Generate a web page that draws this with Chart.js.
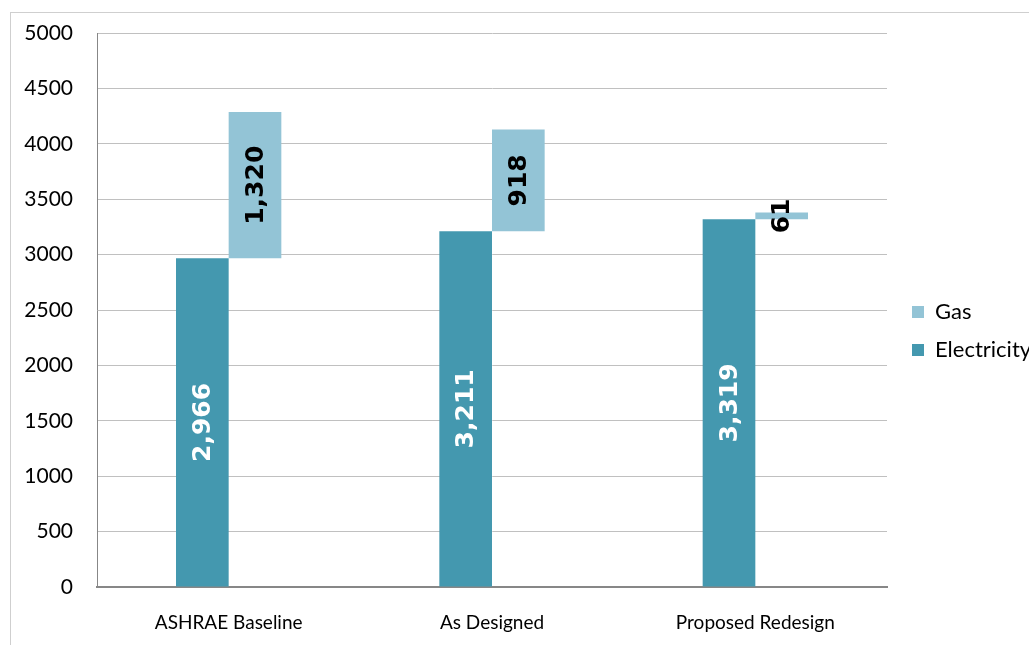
<!DOCTYPE html>
<html>
<head>
<meta charset="utf-8">
<script src="https://cdn.jsdelivr.net/npm/chart.js@4/dist/chart.umd.min.js"></script>
<style>
  html, body { margin: 0; padding: 0; background: #fff; width: 1029px; height: 645px; overflow: hidden; }
  #frame { position: absolute; left: 10px; top: 12px; width: 1200px; height: 800px; border: 1px solid #cfcfcf; box-sizing: border-box; }
  #wrap { position: absolute; left: 0; top: 0; width: 1140px; height: 645px; }
</style>
</head>
<body>
<div id="frame"></div>
<div id="wrap"><canvas id="chart" width="1140" height="645"></canvas></div>
<script>
// Annual energy use by scenario
const categories = ['ASHRAE Baseline', 'As Designed', 'Proposed Redesign'];
const electricity = [2966, 3211, 3319];
const gas = [1320, 918, 61];
const yTickMin = 0;
const yTickMax = 5000;
const yTickStep = 500;

// Gas is drawn as a floating bar sitting on top of the electricity level
const gasRanges = gas.map((g, i) => [electricity[i], electricity[i] + g]);

const fmt = v => v.toLocaleString('en-US');
const CANVAS_W = 1140;
const PLOT_LEFT = 97, PLOT_RIGHT = 887, PLOT_TOP = 33, PLOT_BOTTOM = 587;

const uiFont = 'Lato, "Open Sans", sans-serif';

// Rotated value labels in the middle of each bar
const valueLabels = {
  id: 'valueLabels',
  afterDatasetsDraw(chart) {
    const ctx = chart.ctx;
    chart.data.datasets.forEach((ds, i) => {
      const meta = chart.getDatasetMeta(i);
      if (meta.hidden) return;
      meta.data.forEach((bar, j) => {
        const cx = bar.x;
        const cy = (bar.y + bar.base) / 2;
        ctx.save();
        ctx.translate(cx, cy);
        ctx.rotate(-Math.PI / 2);
        ctx.font = 'bold 25px "DejaVu Sans", sans-serif';
        ctx.fillStyle = ds.valueColor;
        ctx.textAlign = 'center';
        ctx.textBaseline = 'middle';
        ctx.fillText(ds.valueText[j], 0, 1);
        ctx.restore();
      });
    });
  }
};

// Leave a small gap between the plot and the legend column
const legendGap = {
  id: 'legendGap',
  afterLayout(chart) {
    if (chart.legend) {
      chart.legend.left += 9;
      chart.legend.right += 9;
      chart.legend.top -= 8;
      chart.legend.bottom -= 8;
    }
  }
};

const chart = new Chart(document.getElementById('chart'), {
  type: 'bar',
  data: {
    labels: categories,
    datasets: [
      {
        label: 'Electricity',
        data: electricity,
        backgroundColor: '#4498AF',
        valueText: electricity.map(fmt),
        valueColor: '#ffffff',
        categoryPercentage: 0.4,
        barPercentage: 1.0
      },
      {
        label: 'Gas',
        data: gasRanges,
        backgroundColor: '#93C4D6',
        valueText: gas.map(fmt),
        valueColor: '#000000',
        categoryPercentage: 0.4,
        barPercentage: 1.0
      }
    ]
  },
  options: {
    responsive: false,
    animation: false,
    devicePixelRatio: 1,
    layout: { padding: { top: PLOT_TOP, left: 0, bottom: 0, right: 0 } },
    plugins: {
      tooltip: { enabled: false },
      legend: {
        position: 'right',
        reverse: true,
        fullSize: true,
        labels: {
          boxWidth: 12,
          boxHeight: 12,
          padding: 16,
          color: '#000',
          font: { family: uiFont, size: 22 }
        }
      }
    },
    scales: {
      x: {
        offset: true,
        grid: { display: false, drawTicks: false },
        border: { display: true, color: '#878787', width: 2 },
        ticks: { color: '#000', padding: 24, font: { family: uiFont, size: 19 } },
        afterFit(scale) { scale.height = 645 - PLOT_BOTTOM; }
      },
      y: {
        min: yTickMin,
        max: yTickMax,
        ticks: {
          stepSize: yTickStep,
          color: '#000',
          padding: 24,
          font: { family: uiFont, size: 21 },
          callback: v => String(v)
        },
        grid: { color: '#c0c0c0', lineWidth: 1, drawTicks: false },
        border: { display: true, color: '#878787', width: 1 },
        afterFit(scale) {
          scale.width = PLOT_LEFT;
          scale.paddingTop = 0;
          scale.paddingBottom = 0;
        }
      }
    }
  },
  plugins: [valueLabels, legendGap]
});

// Line the plot's right edge up with the legend column
chart.options.layout.padding.right = Math.max(0, CANVAS_W - PLOT_RIGHT - chart.legend.width);
chart.update('none');
</script>
</body>
</html>
